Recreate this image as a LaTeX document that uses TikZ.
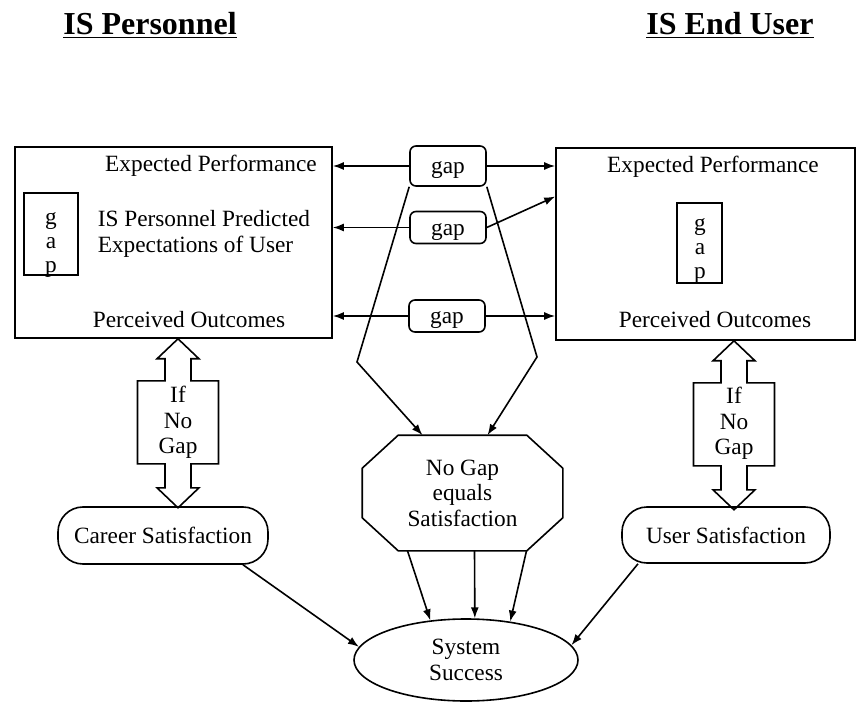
\documentclass[tikz,border=0pt]{standalone}
\usepackage{fontspec}
\setmainfont{Liberation Serif}
\usetikzlibrary{arrows.meta,shapes.geometric,calc}

\tikzset{
  txt/.style={inner sep=0pt},
  ttl/.style={anchor=base, inner sep=0pt, font=\fontsize{32}{36}\selectfont\bfseries},
  gapbox/.style={draw, rounded corners=6pt, minimum width=76pt, minimum height=32pt, inner sep=0pt, text height=16pt, text depth=0pt},
  satbox/.style={draw, rounded corners=25pt, minimum width=210pt, minimum height=57pt, inner sep=0pt},
  arr/.style={-{Latex[length=11pt,width=8pt]}}
}

% 太い両矢印（中央の四角つき）
\newcommand{\fatarrow}[1]{%
  \draw (#1) -- ++(21,20) -- ++(-8,0) -- ++(0,22) -- ++(27.5,0) -- ++(0,83)
    -- ++(-27.5,0) -- ++(0,24) -- ++(8,0) -- ++(-21,20) -- ++(-21,-20)
    -- ++(8,0) -- ++(0,-24) -- ++(-27.5,0) -- ++(0,-83) -- ++(27.5,0)
    -- ++(0,-22) -- ++(-8,0) -- cycle;}

\begin{document}
\begin{tikzpicture}[x=1pt, y=-1pt, line width=1.6pt, font=\fontsize{23.3}{25.5}\selectfont]
        \useasboundingbox (0,0) rectangle (857,703);
        % 見出し
        \node[ttl] (ttlL) at (150,35) {\underline{IS Personnel}};
        \node[ttl] (ttlR) at (730,35) {\underline{IS End User}};
        % 左の枠
        \node[draw, minimum width=317pt, minimum height=191pt] (leftbox) at (173.5,242.5) {};
        \node[txt, anchor=base] (expL) at (211,172) {Expected Performance};
        \node[txt, anchor=north west, align=left] (predL) at (97,210) {IS Personnel Predicted\\Expectations of User};
        \node[txt, anchor=base] (percL) at (189,327) {Perceived Outcomes};
        \node[draw, minimum width=54pt, minimum height=82pt] (gapL) at (51,234) {};
        \node[txt, anchor=north, align=center, font=\fontsize{23.3}{24}\selectfont] (gapLt) at (51,211.5) {g\\a\\p};
        % 右の枠
        \node[draw, minimum width=299pt, minimum height=192pt] (rightbox) at (705.5,244) {};
        \node[txt, anchor=base] (expR) at (713,173) {Expected Performance};
        \node[txt, anchor=base] (percR) at (715,327) {Perceived Outcomes};
        \node[draw, minimum width=45pt, minimum height=80pt] (gapR) at (699.5,243) {};
        \node[txt, anchor=north, align=center, font=\fontsize{23.3}{24}\selectfont] (gapRt) at (700,217.5) {g\\a\\p};
        % 中央の gap
        \node[gapbox, minimum height=40pt] (gapA) at (448,166) {gap};
        \node[gapbox] (gapB) at (448,227.5) {gap};
        \node[gapbox] (gapC) at (447,316) {gap};
        % 下の段
        \node[txt, align=center] (ifL) at (178,422.5) {If\\No\\Gap};
        \node[txt, align=center] (ifR) at (734,423.5) {If\\No\\Gap};
        \node[satbox] (career) at (163,535.5) {Career Satisfaction};
        \node[satbox, minimum width=208pt, minimum height=56pt] (user) at (726,535) {User Satisfaction};
        \node[txt, minimum width=199pt, minimum height=114pt, align=center] (nogap) at (462.5,493) {No Gap\\equals\\Satisfaction};
        \node[draw, ellipse, minimum width=224pt, minimum height=82pt, inner sep=0pt, align=center] (success) at (466,660) {System\\Success};
        % 八角形
        \draw ([xshift=36pt]nogap.north west) -- ([xshift=-36pt]nogap.north east)
          -- ([yshift=-33pt]nogap.north east) -- ([yshift=33pt]nogap.south east)
          -- ([xshift=-36pt]nogap.south east) -- ([xshift=36pt]nogap.south west)
          -- ([yshift=33pt]nogap.south west) -- ([yshift=-33pt]nogap.north west) -- cycle;
        % 太い矢印
        \fatarrow{ifL |- leftbox.south}
        \fatarrow{ifR |- rightbox.south}
        % gap から枠へ
        \draw[arr] (gapA.west) -- (gapA.west -| leftbox.east);
        \draw[arr] (gapA.east) -- (gapA.east -| rightbox.west);
        \draw[arr] (gapB.west) -- (gapB.west -| leftbox.east);
        \draw[arr] (gapB.east) -- ($(rightbox.north west)!0.255!(rightbox.south west)$);
        \draw[arr] (gapC.west) -- (gapC.west -| leftbox.east);
        \draw[arr] (gapC.east) -- (gapC.east -| rightbox.west);
        % gap から八角形へ
        \coordinate (bendL) at (357,362);
        \coordinate (bendR) at (537,357);
        \draw[arr] (gapA.south west) -- (bendL) -- ([xshift=-40pt]nogap.north);
        \draw[arr] (gapA.south east) -- (bendR) -- ([xshift=25pt]nogap.north);
        % System Success へ
        \draw[arr] ([xshift=-55pt]nogap.south) -- (success.132);
        \draw[arr] ([xshift=12pt]nogap.south) -- (success.78);
        \draw[arr] ([xshift=64pt]nogap.south) -- (success.41);
        \draw[arr] ([xshift=80pt]career.south) -- (success.173);
        \draw[arr] ([xshift=-88pt]user.south) -- (success.8);
      \end{tikzpicture}
\end{document}
